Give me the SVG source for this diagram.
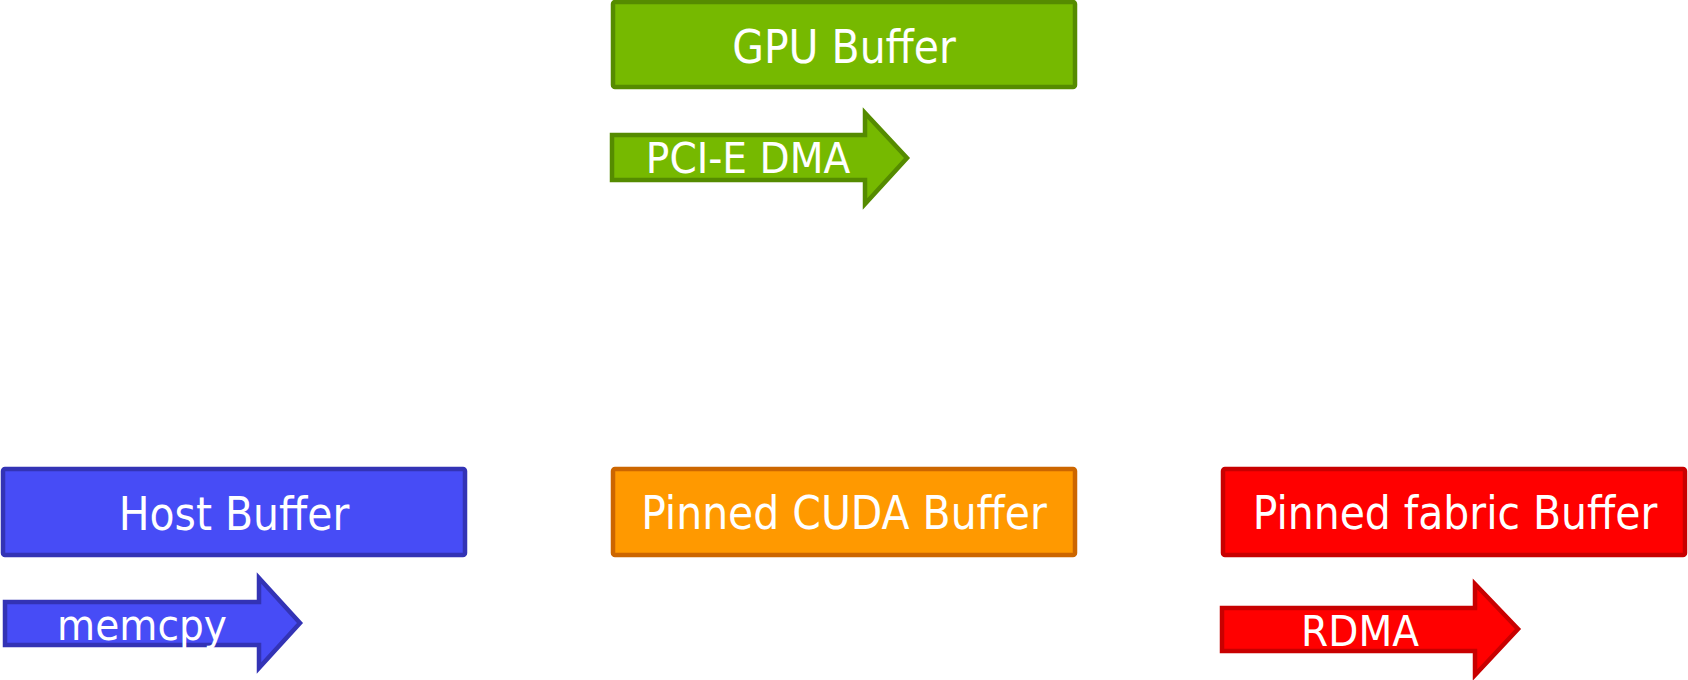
<svg xmlns="http://www.w3.org/2000/svg" width="1688" height="680" viewBox="0 0 1688 680">
  <style>
    .box { stroke-width: 4.5; stroke-linejoin: round; }
    .arrow { stroke-width: 4.5; stroke-linejoin: miter; }
    .label { font-family: "DejaVu Sans Condensed", "DejaVu Sans", sans-serif; font-stretch: condensed; fill: #ffffff; text-anchor: middle; }
    .big { font-size: 45.5px; }
    .small { font-size: 43.5px; }
    .green { fill: #76b900; stroke: #558b00; }
    .blue { fill: #474cf6; stroke: #3333b5; }
    .orange { fill: #ff9900; stroke: #cc6600; }
    .red { fill: #ff0000; stroke: #c80000; }
  </style>
  <rect width="1688" height="680" fill="#ffffff"/>

  <!-- buffers -->
  <g id="gpu-buffer">
    <rect class="box green" x="613" y="2" width="462" height="85" rx="2"/>
    <text class="label big" x="844" y="63">GPU Buffer</text>
  </g>
  <g id="host-buffer">
    <rect class="box blue" x="3" y="469" width="462" height="86" rx="2"/>
    <text class="label big" x="234" y="530">Host Buffer</text>
  </g>
  <g id="pinned-cuda-buffer">
    <rect class="box orange" x="613" y="469" width="462" height="86" rx="2"/>
    <text class="label big" x="844" y="529">Pinned CUDA Buffer</text>
  </g>
  <g id="pinned-fabric-buffer">
    <rect class="box red" x="1223" y="469" width="462" height="86" rx="2"/>
    <text class="label big" x="1455" y="529">Pinned fabric Buffer</text>
  </g>

  <!-- transfer arrows -->
  <g id="connectors">
    <g id="pcie-dma">
      <path class="arrow green" d="M612,135 H865 V113 L907,158 L865,204 V180 H612 Z"/>
      <text class="label small" x="748" y="173">PCI-E DMA</text>
    </g>
    <g id="memcpy">
      <path class="arrow blue" d="M5,602 H259 V578 L300,623 L259,668 V645 H5 Z"/>
      <text class="label small" x="142" y="640">memcpy</text>
    </g>
    <g id="rdma">
      <path class="arrow red" d="M1222,608 H1475 V584 L1518,629 L1475,675 V651 H1222 Z"/>
      <text class="label small" x="1360" y="646">RDMA</text>
    </g>
  </g>
</svg>
